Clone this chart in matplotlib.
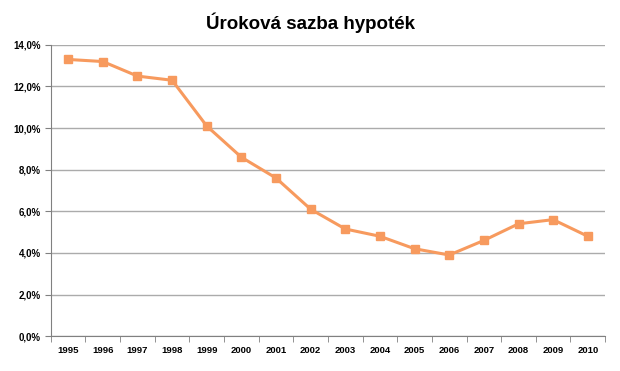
import matplotlib
matplotlib.use("Agg")
import matplotlib.pyplot as plt
import numpy as np
from matplotlib.ticker import FixedLocator

years = ["1995", "1996", "1997", "1998", "1999", "2000", "2001", "2002",
         "2003", "2004", "2005", "2006", "2007", "2008", "2009", "2010"]
rate = [13.3, 13.2, 12.5, 12.3, 10.1, 8.6, 7.6, 6.1,
        5.15, 4.8, 4.2, 3.9, 4.6, 5.4, 5.6, 4.8]
yticks = [0, 2, 4, 6, 8, 10, 12, 14]

plt.rcParams["font.family"] = ["Liberation Sans", "DejaVu Sans"]

fig = plt.figure(figsize=(6.2, 3.71), dpi=100)
ax = fig.add_axes([0.082, 0.094, 0.894, 0.785])

x = np.arange(len(years))
c = "#F79A5E"
ax.plot(x, rate, "-s", color=c, lw=2.2, ms=6, mec=c, mfc=c, zorder=5)

ax.set_xlim(-0.5, len(years) - 0.5)
ax.set_ylim(0, 14)
ax.set_yticks(yticks)
ax.set_yticklabels([f"{v:.1f}%".replace(".", ",") for v in yticks],
                   fontsize=7, fontweight="bold")
ax.yaxis.grid(True, color="#ababab", lw=1.0)
ax.set_axisbelow(True)

ax.xaxis.set_major_locator(FixedLocator(x))
ax.set_xticklabels(years, fontsize=6.8, fontweight="bold")
ax.xaxis.set_minor_locator(FixedLocator(np.arange(-0.5, len(years), 1.0)))
ax.tick_params(axis="x", which="major", length=0, pad=7)
ax.tick_params(axis="x", which="minor", length=4, color="#808080", direction="out")
ax.tick_params(axis="y", length=4, color="#808080", pad=3)

for s in ("top", "right"):
    ax.spines[s].set_visible(False)
for s in ("left", "bottom"):
    ax.spines[s].set_color("#808080")

fig.text(0.5, 0.94, "Úroková sazba hypoték", ha="center", va="center",
         fontsize=13.5, fontweight="bold")

fig.savefig("out.png", dpi=100)
